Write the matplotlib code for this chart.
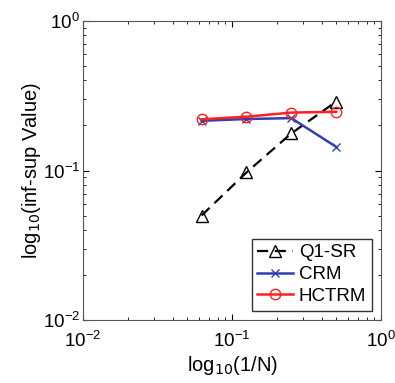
import numpy as np
import matplotlib.pyplot as plt

plt.rcParams['font.family'] = ['Liberation Sans', 'DejaVu Sans']

# mesh size 1/N
h = [1/16, 1/8, 1/4, 1/2]
q1_sr = [0.050, 0.097, 0.177, 0.289]
crm = [0.215, 0.221, 0.224, 0.144]
hctrm = [0.220, 0.229, 0.244, 0.247]

fig = plt.figure(figsize=(3.95, 3.83), dpi=100)
ax = fig.add_axes([83/395, 1 - 320/383, 298/395, 299/383])

ax.loglog(h, q1_sr, color='black', ls=(0, (5, 3)), marker='^', mfc='none', ms=8, lw=1.6, label='Q1-SR')
ax.loglog(h, crm, '-', color='#3040b0', marker='x', ms=6, lw=1.8, label='CRM')
ax.loglog(h, hctrm, '-', color='#ff2020', marker='o', mfc='none', ms=7.5, lw=1.8, label='HCTRM')

ax.set_xlim(1e-2, 1)
ax.set_ylim(1e-2, 1)
ax.tick_params(which='both', direction='in', top=True, right=True, labelsize=13.5)
ax.tick_params(axis='x', which='major', pad=8)
ax.tick_params(axis='y', which='major', pad=2)
ax.tick_params(which='major', length=4)
ax.tick_params(which='minor', length=2)
for s in ax.spines.values():
    s.set_color('#555555')

ax.set_xlabel(r'log$_{10}$(1/N)', fontsize=14.5, labelpad=2)
ax.set_ylabel(r'log$_{10}$(inf-sup Value)', fontsize=14.5, labelpad=0)

leg = ax.legend(loc='lower right', fontsize=13.5, fancybox=False, edgecolor='black',
                handlelength=1.9, borderpad=0.3, labelspacing=0.25, handletextpad=0.3,
                borderaxespad=0.5)
leg.get_frame().set_linewidth(1.0)

fig.savefig('out.png', dpi=100)
